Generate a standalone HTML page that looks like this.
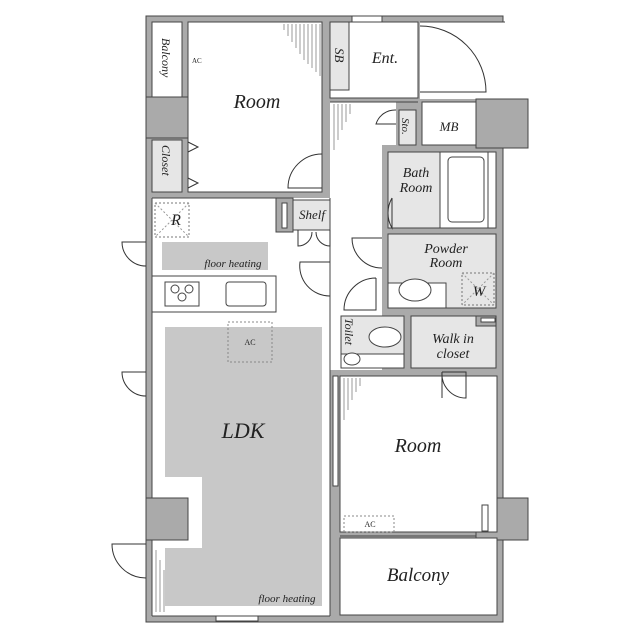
<!DOCTYPE html>
<html><head><meta charset="utf-8"><style>
html,body{margin:0;padding:0;background:#fff}
svg{display:block}
text{font-family:"Liberation Serif",serif;font-style:italic;fill:#222}
</style></head><body>
<svg width="640" height="640" viewBox="0 0 640 640" xmlns="http://www.w3.org/2000/svg">
<g stroke="#444" stroke-width="1">
<rect x="146" y="16" width="357" height="606" fill="#aaa"/>
<rect x="420" y="22" width="86" height="77" fill="#fff" stroke="none"/>
<line x1="420" y1="22" x2="505" y2="22"/>
<rect x="476" y="99" width="52" height="49" fill="#aaa"/>
<rect x="476" y="498" width="52" height="42" fill="#aaa"/>
<rect x="146" y="97" width="42" height="41" fill="#aaa"/>
<rect x="352" y="16" width="30" height="6" fill="#fff"/>
<rect x="152" y="22" width="30" height="75" fill="#fff"/>
<rect x="188" y="22" width="134" height="170" fill="#fff"/>
<rect x="152" y="140" width="30" height="52" fill="#e6e6e6"/>
<rect x="330" y="22" width="88" height="76" fill="#fff"/>
<rect x="330" y="22" width="19" height="68" fill="#e6e6e6"/>
<rect x="330" y="102" width="52" height="268" fill="#fff" stroke="none"/>
<rect x="336" y="102" width="60" height="43" fill="#fff" stroke="none"/>
<line x1="330" y1="102" x2="418" y2="102"/>
<rect x="422" y="102" width="54" height="43" fill="#fff"/>
<rect x="399" y="110" width="17" height="35" fill="#e6e6e6"/>
<rect x="388" y="152" width="52" height="76" fill="#e6e6e6"/>
<rect x="440" y="152" width="56" height="76" fill="#fff"/>
<line x1="488" y1="152" x2="488" y2="228"/>
<rect x="448" y="157" width="36" height="65" rx="4" fill="#fff"/>
<rect x="388" y="234" width="108" height="74" fill="#e6e6e6"/>
<rect x="388" y="283" width="58" height="25" fill="#fff"/>
<ellipse cx="415" cy="290" rx="16" ry="11" fill="#fff"/>
<rect x="462" y="273" width="32" height="32" fill="none" stroke="#777" stroke-dasharray="2,2"/>
<line x1="462" y1="273" x2="494" y2="305" stroke="#999" stroke-dasharray="2,2"/>
<line x1="494" y1="273" x2="462" y2="305" stroke="#999" stroke-dasharray="2,2"/>
<rect x="341" y="316" width="63" height="52" fill="#e6e6e6"/>
<rect x="341" y="354" width="63" height="14" fill="#fff"/>
<ellipse cx="385" cy="337" rx="16" ry="10" fill="#fff"/>
<ellipse cx="352" cy="359" rx="8" ry="6" fill="#fff"/>
<rect x="411" y="316" width="85" height="52" fill="#e6e6e6"/>
<rect x="476" y="316" width="20" height="10" fill="#aaa"/>
<rect x="481" y="318" width="14" height="4" fill="#fff"/>
<rect x="340" y="376" width="157" height="156" fill="#fff"/>
<rect x="340" y="538" width="157" height="77" fill="#fff"/>
<line x1="340" y1="532" x2="476" y2="532"/><line x1="340" y1="536" x2="476" y2="536"/>
<rect x="482" y="505" width="6" height="26" fill="#fff"/>
<rect x="333" y="376" width="5" height="110" fill="#fff"/>
<rect x="152" y="198" width="178" height="418" fill="#fff" stroke="none"/>
<rect x="276" y="198" width="17" height="34" fill="#aaa"/>
<rect x="282" y="203" width="5" height="25" fill="#fff"/>
<rect x="293" y="200" width="37" height="30" fill="#e6e6e6"/>
<line x1="152" y1="198" x2="276" y2="198"/><line x1="330" y1="198" x2="330" y2="616"/>
<line x1="152" y1="198" x2="152" y2="498"/><line x1="152" y1="540" x2="152" y2="616"/><line x1="152" y1="616" x2="330" y2="616"/>
<rect x="216" y="616" width="42" height="5" fill="#fff"/>
<rect x="162" y="242" width="106" height="28" fill="#c8c8c8" stroke="none"/>
<rect x="152" y="276" width="124" height="36" fill="#fff"/>
<rect x="165" y="282" width="34" height="24" fill="#fff"/>
<circle cx="175" cy="289" r="4" fill="#fff"/><circle cx="189" cy="289" r="4" fill="#fff"/><circle cx="182" cy="297" r="4" fill="#fff"/>
<rect x="226" y="282" width="40" height="24" rx="3" fill="#fff"/>
<polygon points="165,327 322,327 322,606 165,606 165,548 202,548 202,477 165,477" fill="#c8c8c8" stroke="none"/>
<rect x="146" y="498" width="42" height="42" fill="#aaa"/>
<rect x="228" y="322" width="44" height="40" fill="none" stroke="#888" stroke-dasharray="2,2"/>
<rect x="344" y="516" width="50" height="16" fill="none" stroke="#888" stroke-dasharray="2,2"/>
<rect x="155" y="203" width="34" height="34" fill="none" stroke="#777" stroke-dasharray="2,2"/>
<line x1="155" y1="203" x2="189" y2="237" stroke="#999" stroke-dasharray="2,2"/>
<line x1="189" y1="203" x2="155" y2="237" stroke="#999" stroke-dasharray="2,2"/>
</g>
<g fill="none" stroke="#333" stroke-width="1">
<path d="M420 92 L486 92 A66 66 0 0 0 420 26"/>
<path d="M322 188 L288 188 A34 34 0 0 1 322 154"/>
<path d="M146 242 L122 242 A24 24 0 0 0 146 266"/>
<path d="M146 372 L122 372 A24 24 0 0 0 146 396"/>
<path d="M146 544 L112 544 A34 34 0 0 0 146 578"/>
<path d="M382 238 L352 238 A30 30 0 0 0 382 268"/>
<path d="M330 262 L300 262 A30 30 0 0 0 330 296"/>
<path d="M376 278 L376 310 L344 310 A32 32 0 0 1 376 278"/>
<path d="M396 124 L376 124 A20 20 0 0 1 396 110"/>
<path d="M392 198 L392 228 A30 30 0 0 1 392 198"/>
<path d="M442 372 L442 398 M442 372 L466 372 L466 398 A24 24 0 0 1 442 372"/>
<path d="M298 230 L298 246 A14 14 0 0 0 312 232 M330 230 L330 246 A14 14 0 0 1 316 232"/>
<path d="M188 142 L198 147 L188 152 M188 178 L198 183 L188 188"/>
</g>
<g stroke="#999" stroke-width="1">
<path d="M284 24 L284 30 M288 24 L288 36 M292 24 L292 42 M296 24 L296 48 M300 24 L300 54 M304 24 L304 60 M308 24 L308 64 M312 24 L312 68 M316 24 L316 72 M320 24 L320 76"/>
<path d="M334 104 L334 150 M338 104 L338 140 M342 104 L342 130 M346 104 L346 122 M350 104 L350 114"/>
<path d="M344 378 L344 420 M348 378 L348 410 M352 378 L352 400 M356 378 L356 392 M360 378 L360 386"/>
<path d="M156 550 L156 612 M160 560 L160 612 M164 570 L164 612"/>
</g>
<text x="257" y="108" font-size="20" text-anchor="middle">Room</text>
<text x="385" y="63" font-size="16" text-anchor="middle">Ent.</text>
<text x="449" y="131" font-size="13" text-anchor="middle">MB</text>
<text x="416" y="177" font-size="14" text-anchor="middle">Bath</text>
<text x="416" y="192" font-size="14" text-anchor="middle">Room</text>
<text x="446" y="253" font-size="14" text-anchor="middle">Powder</text>
<text x="446" y="267" font-size="14" text-anchor="middle">Room</text>
<text x="479" y="296" font-size="15" text-anchor="middle">W</text>
<text x="453" y="343" font-size="14" text-anchor="middle">Walk in</text>
<text x="453" y="358" font-size="14" text-anchor="middle">closet</text>
<text x="418" y="452" font-size="20" text-anchor="middle">Room</text>
<text x="418" y="581" font-size="19" text-anchor="middle">Balcony</text>
<text x="243" y="438" font-size="22" text-anchor="middle">LDK</text>
<text x="233" y="267" font-size="11" text-anchor="middle">floor heating</text>
<text x="287" y="602" font-size="11" text-anchor="middle">floor heating</text>
<text x="312" y="219" font-size="13" text-anchor="middle">Shelf</text>
<text x="176" y="225" font-size="16" text-anchor="middle">R</text>
<text x="250" y="345" font-size="8" text-anchor="middle" style="font-style:normal" fill="#555">AC</text>
<text x="370" y="527" font-size="8" text-anchor="middle" style="font-style:normal" fill="#555">AC</text>
<text x="192" y="63" font-size="7" style="font-style:normal" fill="#555">AC</text>
<text transform="translate(162,38) rotate(90)" font-size="12">Balcony</text>
<text transform="translate(162,145) rotate(90)" font-size="12">Closet</text>
<text transform="translate(335,48) rotate(90)" font-size="13">SB</text>
<text transform="translate(402,118) rotate(90)" font-size="11">Sto.</text>
<text transform="translate(345,318) rotate(90)" font-size="12">Toilet</text>
</svg>
</body></html>
